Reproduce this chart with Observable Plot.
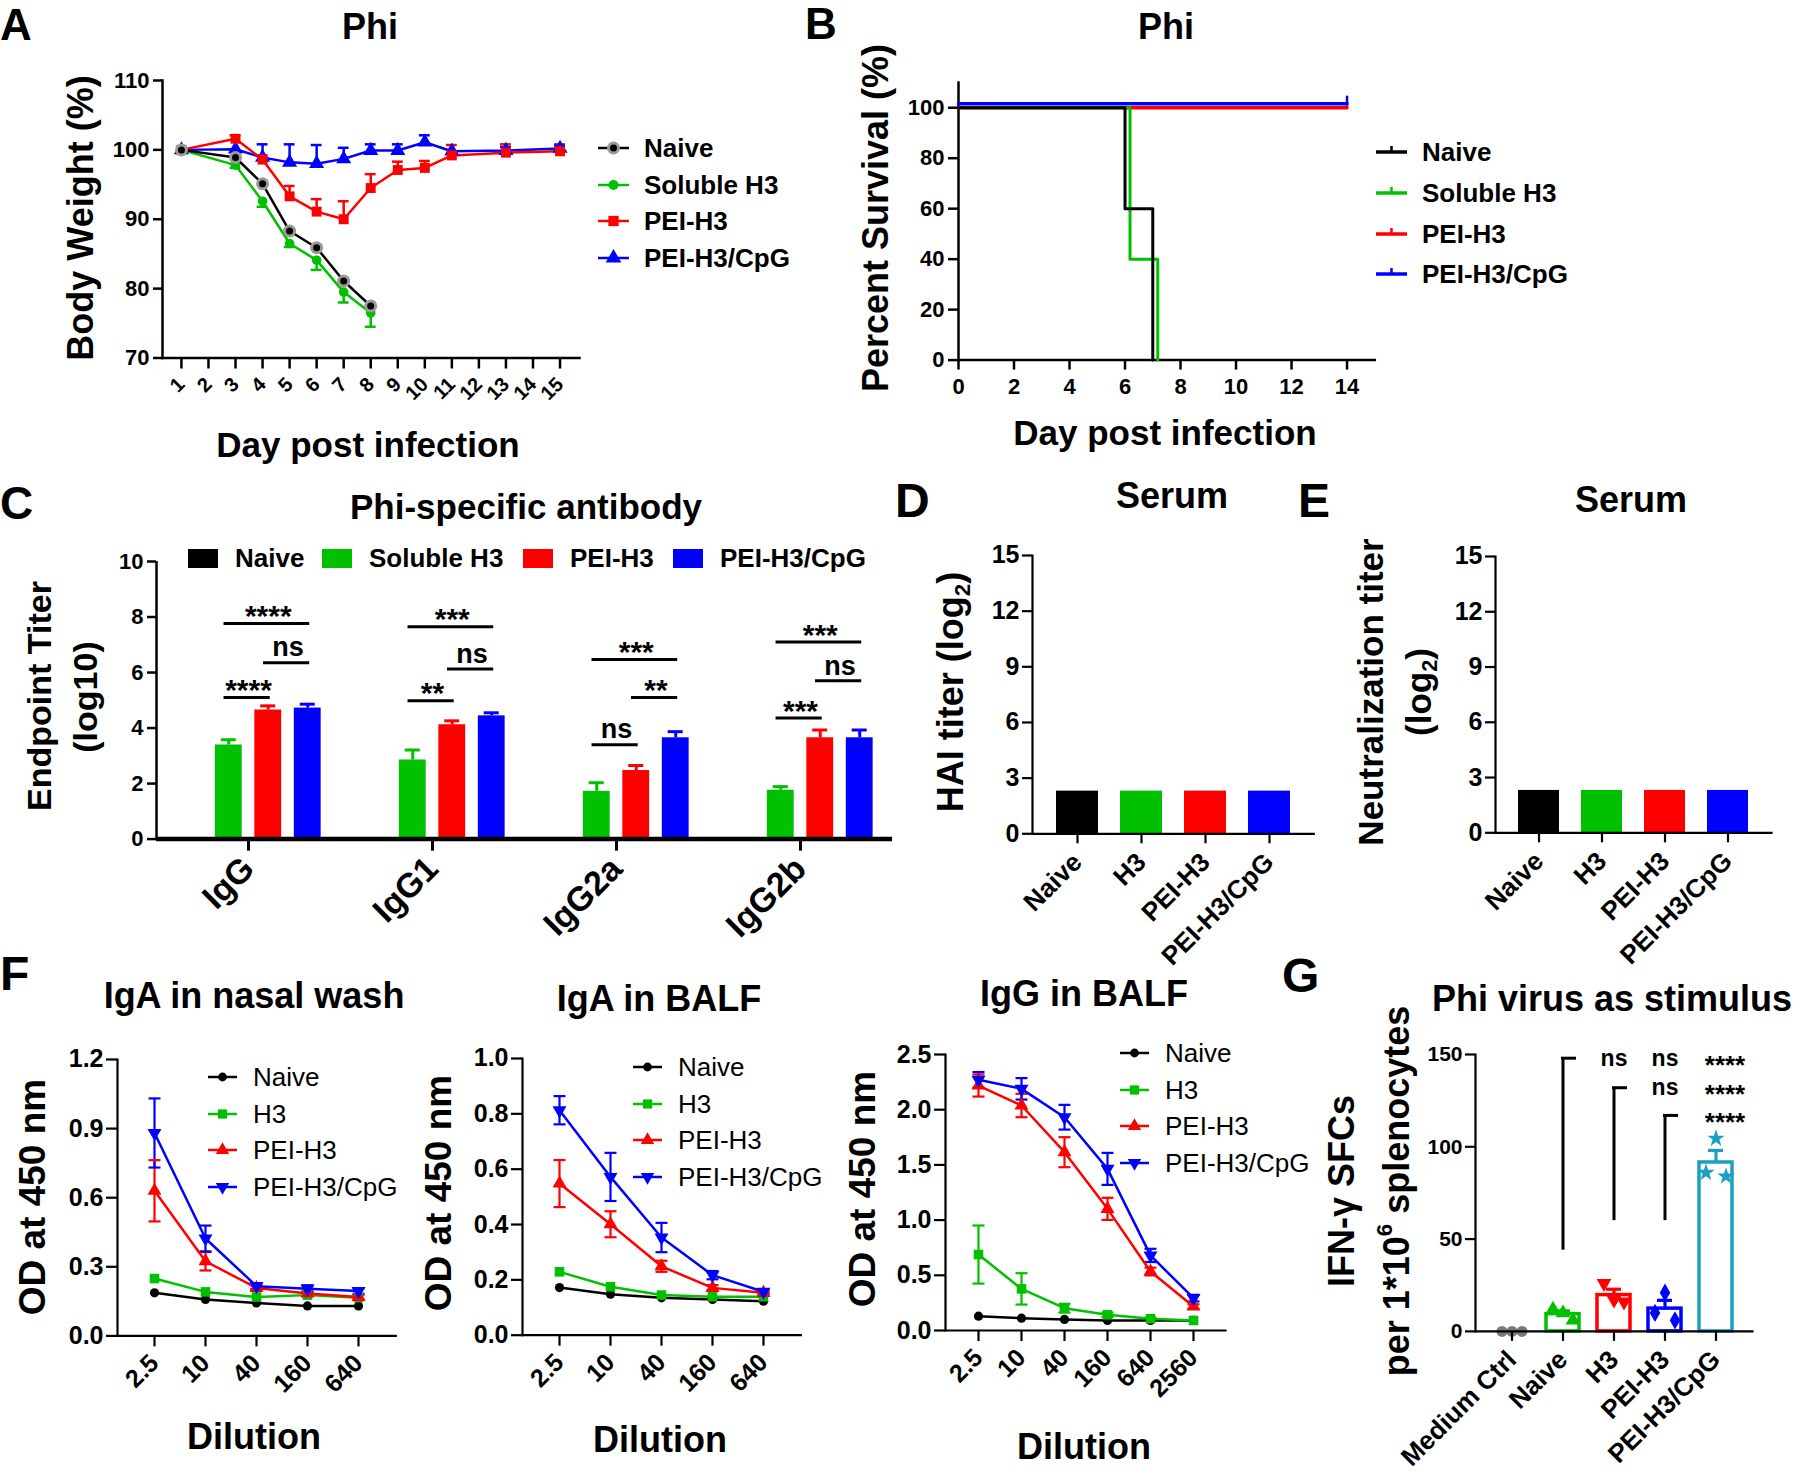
<!DOCTYPE html>
<html>
<head>
<meta charset="utf-8">
<script src="https://cdn.jsdelivr.net/npm/d3@7"></script>
<script src="https://cdn.jsdelivr.net/npm/@observablehq/plot@0.6"></script>
<style>
  html, body { margin: 0; padding: 0; background: #ffffff; overflow: hidden; }
  #root { position: relative; width: 1800px; height: 1476px; font-family: "Liberation Sans", Arial, Helvetica, sans-serif; color: #000; background: #fff; }
  .t { position: absolute; white-space: nowrap; line-height: 1; font-weight: bold; }
  .t sub { font-size: 0.62em; vertical-align: -0.3em; line-height: 0; }
  .t sup { font-size: 0.62em; vertical-align: 0.75em; line-height: 0; }
  .swatch { position: absolute; }
</style>
</head>
<body>
<div id="root"></div>
<script>
// ======================= DATA =======================
// Panel A – body weight (%)
const groupsA = ["Naive", "Soluble H3", "PEI-H3", "PEI-H3/CpG"];
const daysEarly = [1, 3, 4, 5, 6, 7, 8];
const daysAll = [1, 3, 4, 5, 6, 7, 8, 9, 10, 11, 13, 15];
const weightNaive = [100, 98.9, 95.1, 88.3, 85.9, 81.1, 77.5];
const weightNaiveSem = [0, 0, 0, 0, 0, 0, 0];
const weightSoluble = [100, 97.8, 92.6, 86.5, 84.1, 79.5, 76.5];
const weightSolubleSem = [0, 0.4, 0.8, 0.5, 1.4, 1.5, 2.0];
const weightPEI = [100, 101.6, 98.6, 93.3, 91.1, 90.0, 94.5, 97.1, 97.4, 99.2, 99.6, 99.8];
const weightPEISem = [0, 0.5, 0.6, 1.5, 1.8, 2.6, 2.0, 1.2, 1.0, 1.5, 1.2, 1.0];
const weightCpG = [100, 100.1, 98.9, 98.2, 98.0, 98.7, 99.9, 99.9, 101.1, 99.8, 99.9, 100.2];
const weightCpGSem = [0, 0, 1.9, 2.6, 2.7, 1.6, 0.9, 0.9, 1.0, 0, 0.5, 0.4];
const dayTicksA = [1, 2, 3, 4, 5, 6, 7, 8, 9, 10, 11, 12, 13, 14, 15];
const weightTicks = [70, 80, 90, 100, 110];

// Panel B – survival (%)
const survDaysNaive = [0, 6, 7];
const survNaive = [100, 60, 0];
const survDaysSoluble = [0, 6, 7];
const survSoluble = [100, 40, 0];
const survDaysPEI = [0, 14];
const survPEI = [100, 100];
const survDaysCpG = [0, 14];
const survCpG = [100, 100];
const survTicks = [0, 20, 40, 60, 80, 100];
const survDayTicks = [0, 2, 4, 6, 8, 10, 12, 14];

// Panel C – endpoint titer (log10)
const antibodies = ["IgG", "IgG1", "IgG2a", "IgG2b"];
const titerNaive = [0, 0, 0, 0];
const titerSoluble = [3.39, 2.85, 1.72, 1.76];
const titerSolubleSem = [0.19, 0.36, 0.31, 0.13];
const titerPEI = [4.65, 4.12, 2.47, 3.65];
const titerPEISem = [0.15, 0.14, 0.18, 0.28];
const titerCpG = [4.72, 4.44, 3.65, 3.65];
const titerCpGSem = [0.14, 0.11, 0.22, 0.28];
const titerTicks = [0, 2, 4, 6, 8, 10];
const sigC = [
  {ab: "IgG", from: "Soluble H3", to: "PEI-H3", y: 5.1, label: "****"},
  {ab: "IgG", from: "Soluble H3", to: "PEI-H3/CpG", y: 7.77, label: "****"},
  {ab: "IgG", from: "PEI-H3", to: "PEI-H3/CpG", y: 6.35, label: "ns"},
  {ab: "IgG1", from: "Soluble H3", to: "PEI-H3", y: 4.98, label: "**"},
  {ab: "IgG1", from: "Soluble H3", to: "PEI-H3/CpG", y: 7.65, label: "***"},
  {ab: "IgG1", from: "PEI-H3", to: "PEI-H3/CpG", y: 6.13, label: "ns"},
  {ab: "IgG2a", from: "Soluble H3", to: "PEI-H3", y: 3.4, label: "ns"},
  {ab: "IgG2a", from: "Soluble H3", to: "PEI-H3/CpG", y: 6.47, label: "***"},
  {ab: "IgG2a", from: "PEI-H3", to: "PEI-H3/CpG", y: 5.1, label: "**"},
  {ab: "IgG2b", from: "Soluble H3", to: "PEI-H3", y: 4.36, label: "***"},
  {ab: "IgG2b", from: "Soluble H3", to: "PEI-H3/CpG", y: 7.1, label: "***"},
  {ab: "IgG2b", from: "PEI-H3", to: "PEI-H3/CpG", y: 5.7, label: "ns"}
];

// Panels D, E – serum titers (log2)
const serumGroups = ["Naive", "H3", "PEI-H3", "PEI-H3/CpG"];
const haiTiter = [2.3, 2.3, 2.3, 2.3];
const neutTiter = [2.3, 2.3, 2.3, 2.3];
const log2Ticks = [0, 3, 6, 9, 12, 15];

// Panel F – OD at 450 nm
const dilutions5 = ["2.5", "10", "40", "160", "640"];
const dilutions6 = ["2.5", "10", "40", "160", "640", "2560"];
const nasalNaive = [0.187, 0.158, 0.143, 0.130, 0.130];
const nasalH3 = [0.249, 0.191, 0.169, 0.177, 0.166];
const nasalPEI = [0.630, 0.324, 0.208, 0.184, 0.169];
const nasalPEISem = [0.133, 0.040, 0.010, 0.010, 0.008];
const nasalCpG = [0.881, 0.423, 0.216, 0.205, 0.195];
const nasalCpGSem = [0.150, 0.056, 0.012, 0.015, 0.012];
const balfIgANaive = [0.172, 0.148, 0.135, 0.129, 0.123];
const balfIgAH3 = [0.229, 0.175, 0.145, 0.139, 0.139];
const balfIgAPEI = [0.548, 0.401, 0.249, 0.171, 0.153];
const balfIgAPEISem = [0.085, 0.047, 0.020, 0.010, 0.005];
const balfIgACpG = [0.813, 0.572, 0.353, 0.217, 0.157];
const balfIgACpGSem = [0.051, 0.087, 0.053, 0.015, 0.006];
const balfIgGNaive = [0.130, 0.112, 0.100, 0.091, 0.091, 0.091];
const balfIgGH3 = [0.688, 0.377, 0.202, 0.142, 0.106, 0.091];
const balfIgGH3Sem = [0.263, 0.142, 0.040, 0.020, 0.010, 0.000];
const balfIgGPEI = [2.219, 2.038, 1.615, 1.102, 0.534, 0.217];
const balfIgGPEISem = [0.100, 0.106, 0.136, 0.100, 0.035, 0.020];
const balfIgGCpG = [2.271, 2.189, 1.932, 1.464, 0.680, 0.293];
const balfIgGCpGSem = [0.070, 0.097, 0.112, 0.145, 0.060, 0.030];
const odTicksNasal = [0, 0.3, 0.6, 0.9, 1.2];
const odTicksIgA = [0, 0.2, 0.4, 0.6, 0.8, 1.0];
const odTicksIgG = [0, 0.5, 1.0, 1.5, 2.0, 2.5];

// Panel G – IFN-γ SFCs per 1e6 splenocytes (replicates)
const elispotGroups = ["Medium Ctrl", "Naive", "H3", "PEI-H3", "PEI-H3/CpG"];
const elispotMedium = [0, 0, 0];
const elispotNaive = [12, 10, 6];
const elispotH3 = [26, 17, 16];
const elispotPEI = [10, 21, 6];
const elispotCpG = [86, 104.5, 84];
const sfcTicks = [0, 50, 100, 150];
const sigGLines = [
  {from: "Naive", base: 44, top: 148},
  {from: "H3", base: 60, top: 132},
  {from: "PEI-H3", base: 60, top: 117}
];
const sigGLabels = [
  {at: "H3", y: 148, label: "ns"},
  {at: "PEI-H3", y: 148, label: "ns"},
  {at: "PEI-H3/CpG", y: 148, label: "****"},
  {at: "PEI-H3", y: 132, label: "ns"},
  {at: "PEI-H3/CpG", y: 132, label: "****"},
  {at: "PEI-H3/CpG", y: 117, label: "****"}
];

// ======================= STYLE =======================
const FONT = '"Liberation Sans", Arial, Helvetica, sans-serif';
const BLACK = "#000000", GREEN = "#00c000", RED = "#ff0000", BLUE = "#0000ff", TEAL = "#1c9fc2", GRAY = "#7a7a7a";
const SQ3 = Math.sqrt(3);
const triDown = {draw(ctx, size) { const y = -Math.sqrt(size / (SQ3 * 3)); ctx.moveTo(0, -y * 2); ctx.lineTo(-SQ3 * y, y); ctx.lineTo(SQ3 * y, y); ctx.closePath(); }};
const hline = {draw(ctx, size) { const w = Math.sqrt(size / Math.PI); ctx.moveTo(-w, 0); ctx.lineTo(w, 0); }};

const root = document.getElementById("root");

function addText(html, x, y, o = {}) {
  const {size = 36, weight = "bold", anchor = "middle", rotate = 0} = o;
  const d = document.createElement("div");
  d.className = "t";
  d.innerHTML = html;
  Object.assign(d.style, {left: x + "px", top: y + "px", fontSize: size + "px", fontWeight: weight});
  const tx = anchor === "middle" ? "-50%" : anchor === "end" ? "-100%" : "0%";
  d.style.transform = `translate(${tx}, -50%)` + (rotate ? ` rotate(${rotate}deg)` : "");
  root.appendChild(d);
}

function mount(spec, fr, pad) {
  const [x0, y0, x1, y1] = fr;
  const [l, t, r, b] = pad;
  const svg = Plot.plot({
    ...spec,
    width: x1 - x0 + l + r,
    height: y1 - y0 + t + b,
    marginLeft: l, marginTop: t, marginRight: r, marginBottom: b,
    style: {background: "transparent", overflow: "visible", fontFamily: FONT, fontWeight: "bold", color: "#000"}
  });
  Object.assign(svg.style, {position: "absolute", left: (x0 - l) + "px", top: (y0 - t) + "px", maxWidth: "none"});
  root.appendChild(svg);
  return svg;
}

function axisLines(w) {
  return [
    Plot.frame({anchor: "left", strokeWidth: w, strokeLinecap: "square"}),
    Plot.frame({anchor: "bottom", strokeWidth: w, strokeLinecap: "square"})
  ];
}

function symbolPath(sym, r) {
  return d3.symbol(sym, r * r * Math.PI)();
}

// legend with line swatches
function legendList(x, y0, step, items, o) {
  const {swW, textGap, size, weight, lineW} = o;
  items.forEach((it, k) => {
    const y = y0 + k * step;
    const s = d3.create("svg").attr("class", "swatch").attr("width", swW).attr("height", 30)
      .style("left", x + "px").style("top", (y - 15) + "px").style("overflow", "visible");
    s.append("line").attr("x1", 0).attr("x2", swW).attr("y1", 15).attr("y2", 15)
      .attr("stroke", it.color).attr("stroke-width", lineW);
    if (it.tick) s.append("line").attr("x1", swW / 2).attr("x2", swW / 2).attr("y1", 15).attr("y2", 9)
      .attr("stroke", it.color).attr("stroke-width", 2.5);
    if (it.halo) s.append("path").attr("transform", `translate(${swW / 2},15)`).attr("d", symbolPath(d3.symbolCircle, it.halo)).attr("fill", "#9a9a9a");
    if (it.sym) s.append("path").attr("transform", `translate(${swW / 2},15)`).attr("d", symbolPath(it.sym, it.r)).attr("fill", it.color);
    root.appendChild(s.node());
    addText(it.label, x + swW + textGap, y, {size, weight, anchor: "start"});
  });
}

// ======================= PANEL A =======================
const colorA = {domain: groupsA, range: [BLACK, GREEN, RED, BLUE]};
const seriesA = [
  {group: "Naive", days: daysEarly, mean: weightNaive, sem: weightNaiveSem, dir: -1},
  {group: "Soluble H3", days: daysEarly, mean: weightSoluble, sem: weightSolubleSem, dir: -1},
  {group: "PEI-H3", days: daysAll, mean: weightPEI, sem: weightPEISem, dir: 1},
  {group: "PEI-H3/CpG", days: daysAll, mean: weightCpG, sem: weightCpGSem, dir: 1}
];
const rowsA = seriesA.flatMap(s => s.days.map((day, i) => ({group: s.group, day, value: s.mean[i], tip: s.mean[i] + s.dir * s.sem[i], sem: s.sem[i]})));
const errA = rowsA.filter(d => d.sem > 0);
const ofA = g => rowsA.filter(d => d.group === g);
const symA = {"Soluble H3": "circle", "PEI-H3": "square", "PEI-H3/CpG": "triangle"};

mount({
  x: {domain: [0.3, 15.72]},
  y: {domain: [70, 110]},
  color: colorA,
  marks: [
    ...axisLines(2.5),
    Plot.axisY({ticks: weightTicks, tickSize: 9, tickPadding: 4, fontSize: 22, strokeWidth: 2.5, label: null}),
    Plot.axisX({ticks: dayTicksA, tickSize: 11, tickPadding: 12, tickRotate: -45, fontSize: 20, strokeWidth: 2.5, label: null}),
    Plot.ruleX(errA, {x: "day", y1: "value", y2: "tip", stroke: "group", strokeWidth: 2.5}),
    Plot.ruleY(errA, {y: "tip", x1: d => d.day - 0.2, x2: d => d.day + 0.2, stroke: "group", strokeWidth: 2.5}),
    ...["PEI-H3/CpG", "PEI-H3", "Soluble H3", "Naive"].map(g => Plot.line(ofA(g), {x: "day", y: "value", stroke: "group", strokeWidth: 2.5})),
    ...["PEI-H3/CpG", "PEI-H3", "Soluble H3"].map(g => Plot.dot(ofA(g), {x: "day", y: "value", fill: "group", symbol: symA[g], r: g === "Soluble H3" ? 4.8 : 5.6})),
    Plot.dot(ofA("Naive"), {x: "day", y: "value", fill: "#9a9a9a", r: 6.5}),
    Plot.dot(ofA("Naive"), {x: "day", y: "value", fill: BLACK, r: 3.5})
  ]
}, [162, 80, 579, 357.5], [80, 12, 20, 60]);

addText("A", 0, 25, {size: 44, anchor: "start"});
addText("Phi", 370, 27, {size: 36});
addText("Body Weight (%)", 81, 218, {size: 36, rotate: -90});
addText("Day post infection", 368, 444, {size: 35});
legendList(598, 148, 36.7, [
  {label: "Naive", color: BLACK, halo: 6.5, sym: d3.symbolCircle, r: 3.5},
  {label: "Soluble H3", color: GREEN, sym: d3.symbolCircle, r: 5},
  {label: "PEI-H3", color: RED, sym: d3.symbolSquare, r: 5.8},
  {label: "PEI-H3/CpG", color: BLUE, sym: d3.symbolTriangle, r: 5.8}
], {swW: 31, textGap: 15, size: 26, weight: "bold", lineW: 2.5});

// ======================= PANEL B =======================
const rowsB = [
  ...survDaysNaive.map((day, i) => ({group: "Naive", day, surv: survNaive[i]})),
  ...survDaysSoluble.map((day, i) => ({group: "Soluble H3", day, surv: survSoluble[i]})),
  ...survDaysPEI.map((day, i) => ({group: "PEI-H3", day, surv: survPEI[i]})),
  ...survDaysCpG.map((day, i) => ({group: "PEI-H3/CpG", day, surv: survCpG[i]}))
];
const ofB = g => rowsB.filter(d => d.group === g);
const lastB = g => ofB(g).slice(-1);
mount({
  x: {domain: [0, 15]},
  y: {domain: [0, 110]},
  color: colorA,
  marks: [
    ...axisLines(2.5),
    Plot.axisY({ticks: survTicks, tickSize: 10, tickPadding: 4, fontSize: 22, strokeWidth: 2.5, label: null}),
    Plot.axisX({ticks: survDayTicks, tickSize: 10, tickPadding: 8, fontSize: 22, strokeWidth: 2.5, label: null}),
    Plot.line(ofB("PEI-H3"), {x: "day", y: "surv", stroke: "group", curve: "step-after", strokeWidth: 3.5}),
    Plot.ruleX(lastB("PEI-H3"), {x: "day", y1: "surv", y2: d => d.surv + 2, stroke: "group", strokeWidth: 2.5}),
    Plot.line(ofB("Soluble H3"), {x: "day", y: "surv", stroke: "group", curve: "step-after", strokeWidth: 3, dx: 5}),
    Plot.line(ofB("Naive"), {x: "day", y: "surv", stroke: "group", curve: "step-after", strokeWidth: 3}),
    Plot.line(ofB("PEI-H3/CpG"), {x: "day", y: "surv", stroke: "group", curve: "step-after", strokeWidth: 3.5, dy: -4}),
    Plot.ruleX(lastB("PEI-H3/CpG"), {x: "day", y1: "surv", y2: d => d.surv + 3, stroke: "group", strokeWidth: 2.5, dy: -4})
  ]
}, [957.5, 81.7, 1373.8, 359.3], [80, 12, 20, 50]);

addText("B", 805, 24, {size: 44, anchor: "start"});
addText("Phi", 1166, 27, {size: 36});
addText("Percent Survival (%)", 876, 218, {size: 36, rotate: -90});
addText("Day post infection", 1165, 432, {size: 35});
legendList(1376, 152, 40.8, [
  {label: "Naive", color: BLACK, tick: true},
  {label: "Soluble H3", color: GREEN, tick: true},
  {label: "PEI-H3", color: RED, tick: true},
  {label: "PEI-H3/CpG", color: BLUE, tick: true}
], {swW: 31, textGap: 15, size: 26, weight: "bold", lineW: 3.5});

// ======================= PANEL C =======================
const rowsC = antibodies.flatMap((ab, i) => [
  {ab, group: "Naive", value: titerNaive[i], sem: 0},
  {ab, group: "Soluble H3", value: titerSoluble[i], sem: titerSolubleSem[i]},
  {ab, group: "PEI-H3", value: titerPEI[i], sem: titerPEISem[i]},
  {ab, group: "PEI-H3/CpG", value: titerCpG[i], sem: titerCpGSem[i]}
]);
const barsC = rowsC.filter(d => d.value > 0);
const gi = g => groupsA.indexOf(g);
const xDomC = [-0.83, 3.83];
mount({
  fx: {domain: antibodies, padding: 0, label: null},
  x: {domain: xDomC, axis: null},
  y: {domain: [0, 10]},
  color: colorA,
  marks: [
    Plot.rect(barsC, {fx: "ab", x1: d => gi(d.group) - 0.34, x2: d => gi(d.group) + 0.34, y1: () => 0, y2: "value", fill: "group"}),
    Plot.ruleX(barsC, {fx: "ab", x: d => gi(d.group), y1: "value", y2: d => d.value + d.sem, stroke: "group", strokeWidth: 3}),
    Plot.ruleY(barsC, {fx: "ab", y: d => d.value + d.sem, x1: d => gi(d.group) - 0.19, x2: d => gi(d.group) + 0.19, stroke: "group", strokeWidth: 3}),
    Plot.ruleY(sigC, {fx: "ab", y: "y", x1: d => gi(d.from) - 0.12, x2: d => gi(d.to) + 0.05, stroke: BLACK, strokeWidth: 3}),
    Plot.text(sigC.filter(d => d.label === "ns"), {fx: "ab", x: d => (gi(d.from) + gi(d.to)) / 2, y: "y", text: "label", dy: -15, fontSize: 27, fontWeight: "bold"}),
    Plot.text(sigC.filter(d => d.label !== "ns"), {fx: "ab", x: d => (gi(d.from) + gi(d.to)) / 2, y: "y", text: "label", dy: -7, fontSize: 30, fontWeight: "bold"}),
    Plot.ruleY([0], {strokeWidth: 4.5}),
    Plot.ruleX([antibodies[0]], {fx: d => d, x: xDomC[0], strokeWidth: 2.5}),
    Plot.axisY({ticks: titerTicks, tickSize: 9, tickPadding: 4, fontSize: 22, strokeWidth: 2.5, label: null}),
    Plot.axisFx({anchor: "bottom", tickSize: 12, tickPadding: 12, tickRotate: -45, fontSize: 34, strokeWidth: 3, label: null})
  ]
}, [156, 560.7, 892, 838.3], [70, 12, 10, 110]);

addText("C", 0, 503, {size: 46, anchor: "start"});
addText("Phi-specific antibody", 526, 506, {size: 35});
addText("Endpoint Titer", 39, 696, {size: 34, rotate: -90});
addText("(log10)", 85, 697, {size: 34, rotate: -90});
// legend C: square swatches in one row
[["Naive", BLACK, 188], ["Soluble H3", GREEN, 322], ["PEI-H3", RED, 523], ["PEI-H3/CpG", BLUE, 673]].forEach(([lab, col, x]) => {
  const sw = document.createElement("div");
  Object.assign(sw.style, {position: "absolute", left: x + "px", top: "549px", width: "30px", height: "19px", background: col});
  root.appendChild(sw);
  addText(lab, x + 47, 558, {size: 26, anchor: "start"});
});

// ======================= PANELS D, E =======================
const colorSerum = {domain: serumGroups, range: [BLACK, GREEN, RED, BLUE]};
function serumPanel(values, fr, pad) {
  const rows = serumGroups.map((group, i) => ({group, value: values[i]}));
  mount({
    x: {domain: serumGroups, padding: 0.35},
    y: {domain: [0, 15]},
    color: colorSerum,
    marks: [
      Plot.barY(rows, {x: "group", y: "value", fill: "group"}),
      ...axisLines(2.2),
      Plot.axisY({ticks: log2Ticks, tickSize: 10, tickPadding: 3, fontSize: 25, strokeWidth: 2.2, label: null}),
      Plot.axisX({tickSize: 10, tickPadding: 14, tickRotate: -45, fontSize: 26, strokeWidth: 2.2, label: null})
    ]
  }, fr, pad);
}
serumPanel(haiTiter, [1031.7, 555, 1313, 833.3], [70, 12, 10, 110]);
serumPanel(neutTiter, [1495, 556, 1771, 832.3], [70, 12, 10, 110]);

addText("D", 895, 501, {size: 48, anchor: "start"});
addText("Serum", 1172, 496, {size: 36});
addText("HAI titer (log<sub>2</sub>)", 951, 692, {size: 36, rotate: -90});
addText("E", 1298, 501, {size: 48, anchor: "start"});
addText("Serum", 1631, 500, {size: 36});
addText("Neutralization titer", 1370, 692, {size: 35, rotate: -90});
addText("(log<sub>2</sub>)", 1418, 692, {size: 35, rotate: -90});

// ======================= PANEL F =======================
const groupsF = ["Naive", "H3", "PEI-H3", "PEI-H3/CpG"];
const colorF = {domain: groupsF, range: [BLACK, GREEN, RED, BLUE]};
const symF = {"Naive": "circle", "H3": "square", "PEI-H3": "triangle", "PEI-H3/CpG": triDown};
const rF = {"Naive": 4.6, "H3": 5.4, "PEI-H3": 5.2, "PEI-H3/CpG": 5.2};
function elisaPanel(dils, series, yDom, yTicks, fr, pad) {
  const rows = series.flatMap(s => dils.map((x, i) => ({group: s.group, x, v: s.v[i], e: s.e ? s.e[i] : 0})));
  const err = rows.filter(d => d.e > 0);
  mount({
    x: {type: "point", domain: dils, padding: 0.69},
    y: {domain: yDom},
    color: colorF,
    marks: [
      ...axisLines(2.2),
      Plot.axisY({ticks: yTicks, tickFormat: d3.format(".1f"), tickSize: 11, tickPadding: 3, fontSize: 25, strokeWidth: 2.2, label: null}),
      Plot.axisX({tickSize: 11, tickPadding: 12, tickRotate: -45, fontSize: 25, strokeWidth: 2.2, label: null}),
      Plot.ruleX(err, {x: "x", y1: d => d.v - d.e, y2: d => d.v + d.e, stroke: "group", strokeWidth: 2.2}),
      Plot.dot(err, {x: "x", y: d => d.v + d.e, symbol: hline, r: 6, fill: "none", stroke: "group", strokeWidth: 2.2}),
      Plot.dot(err, {x: "x", y: d => d.v - d.e, symbol: hline, r: 6, fill: "none", stroke: "group", strokeWidth: 2.2}),
      ...groupsF.map(g => Plot.line(rows.filter(d => d.group === g), {x: "x", y: "v", stroke: "group", strokeWidth: 2.5})),
      ...groupsF.map(g => Plot.dot(rows.filter(d => d.group === g), {x: "x", y: "v", fill: "group", symbol: symF[g], r: rF[g]}))
    ]
  }, fr, pad);
}
const legendItemsF = [
  {label: "Naive", color: BLACK, sym: d3.symbolCircle, r: 4.4},
  {label: "H3", color: GREEN, sym: d3.symbolSquare, r: 5.2},
  {label: "PEI-H3", color: RED, sym: d3.symbolTriangle, r: 5},
  {label: "PEI-H3/CpG", color: BLUE, sym: triDown, r: 5}
];
const legOptF = {swW: 29, textGap: 16, size: 26, weight: "normal", lineW: 2.5};

elisaPanel(dilutions5, [
  {group: "Naive", v: nasalNaive},
  {group: "H3", v: nasalH3},
  {group: "PEI-H3", v: nasalPEI, e: nasalPEISem},
  {group: "PEI-H3/CpG", v: nasalCpG, e: nasalCpGSem}
], [0, 1.2], odTicksNasal, [116.7, 1059.3, 395, 1335.7], [60, 12, 10, 80]);
addText("F", 0, 974, {size: 48, anchor: "start"});
addText("IgA in nasal wash", 254, 996, {size: 36});
addText("OD at 450 nm", 32, 1197, {size: 37, rotate: -90});
addText("Dilution", 254, 1437, {size: 36});
legendList(208, 1077, 36.7, legendItemsF, legOptF);

elisaPanel(dilutions5, [
  {group: "Naive", v: balfIgANaive},
  {group: "H3", v: balfIgAH3},
  {group: "PEI-H3", v: balfIgAPEI, e: balfIgAPEISem},
  {group: "PEI-H3/CpG", v: balfIgACpG, e: balfIgACpGSem}
], [0, 1.0], odTicksIgA, [521.7, 1058.3, 800, 1335], [60, 12, 10, 80]);
addText("IgA in BALF", 659, 999, {size: 36});
addText("OD at 450 nm", 438, 1193, {size: 37, rotate: -90});
addText("Dilution", 660, 1440, {size: 36});
legendList(633, 1067, 36.7, legendItemsF, legOptF);

elisaPanel(dilutions6, [
  {group: "Naive", v: balfIgGNaive},
  {group: "H3", v: balfIgGH3, e: balfIgGH3Sem},
  {group: "PEI-H3", v: balfIgGPEI, e: balfIgGPEISem},
  {group: "PEI-H3/CpG", v: balfIgGCpG, e: balfIgGCpGSem}
], [0, 2.5], odTicksIgG, [945, 1054, 1225, 1330], [60, 12, 10, 80]);
addText("IgG in BALF", 1084, 994, {size: 36});
addText("OD at 450 nm", 862, 1189, {size: 37, rotate: -90});
addText("Dilution", 1084, 1447, {size: 36});
legendList(1120, 1053, 36.7, legendItemsF, legOptF);

// ======================= PANEL G =======================
const repsG = [elispotMedium, elispotNaive, elispotH3, elispotPEI, elispotCpG];
const rowsG = elispotGroups.flatMap((group, i) => repsG[i].map((value, rep) => ({group, value, rep})));
const colorG = {domain: elispotGroups, range: [GRAY, GREEN, RED, BLUE, TEAL]};
const symG = {"Medium Ctrl": "circle", "Naive": "triangle", "H3": triDown, "PEI-H3": "diamond", "PEI-H3/CpG": "star"};
const semTop = v => d3.mean(v) + d3.deviation(v) / Math.sqrt(v.length);
const rowsGerr = rowsG.filter(d => d.group !== "Medium Ctrl");
mount({
  x: {domain: elispotGroups, padding: 0.36},
  y: {domain: [0, 150]},
  color: colorG,
  marks: [
    Plot.barY(rowsG, Plot.groupX({y: "mean"}, {x: "group", y: "value", stroke: "group", fill: "none", strokeWidth: 3.5})),
    Plot.ruleX(rowsGerr, Plot.groupX({y1: "mean", y2: semTop}, {x: "group", y: "value", stroke: "group", strokeWidth: 3.2})),
    Plot.tickY(rowsGerr, Plot.groupX({y: semTop}, {x: "group", y: "value", stroke: "group", strokeWidth: 3.2, insetLeft: 9, insetRight: 9})),
    ...elispotGroups.flatMap(g => [0, 1, 2].map(k => Plot.dot(rowsG.filter(d => d.group === g && d.rep === k),
      {x: "group", y: "value", fill: "group", symbol: symG[g], r: 5.5, dx: (k - 1) * 10}))),
    Plot.ruleX(sigGLines, {x: "from", y1: "base", y2: "top", stroke: BLACK, strokeWidth: 3}),
    Plot.tickY(sigGLines, {x: "from", y: "top", stroke: BLACK, strokeWidth: 3, insetLeft: 15, insetRight: 3}),
    Plot.text(sigGLabels.filter(d => d.label === "ns"), {x: "at", y: "y", text: "label", fontSize: 23, fontWeight: "bold"}),
    Plot.text(sigGLabels.filter(d => d.label !== "ns"), {x: "at", y: "y", text: "label", fontSize: 26, fontWeight: "bold", dy: 7, dx: 9}),
    ...axisLines(2.2),
    Plot.axisY({ticks: sfcTicks, tickSize: 10, tickPadding: 3, fontSize: 21, strokeWidth: 2.2, label: null}),
    Plot.axisX({tickSize: 10, tickPadding: 14, tickRotate: -45, fontSize: 26, strokeWidth: 2.2, label: null})
  ]
}, [1475, 1053.8, 1752, 1330.7], [60, 12, 10, 140]);

addText("G", 1282, 976, {size: 48, anchor: "start"});
addText("Phi virus as stimulus", 1612, 999, {size: 36});
addText("IFN-γ SFCs", 1342, 1191, {size: 36, rotate: -90});
addText("per 1*10<sup>6</sup> splenocytes", 1397, 1191, {size: 36, rotate: -90});
</script>
</body>
</html>
